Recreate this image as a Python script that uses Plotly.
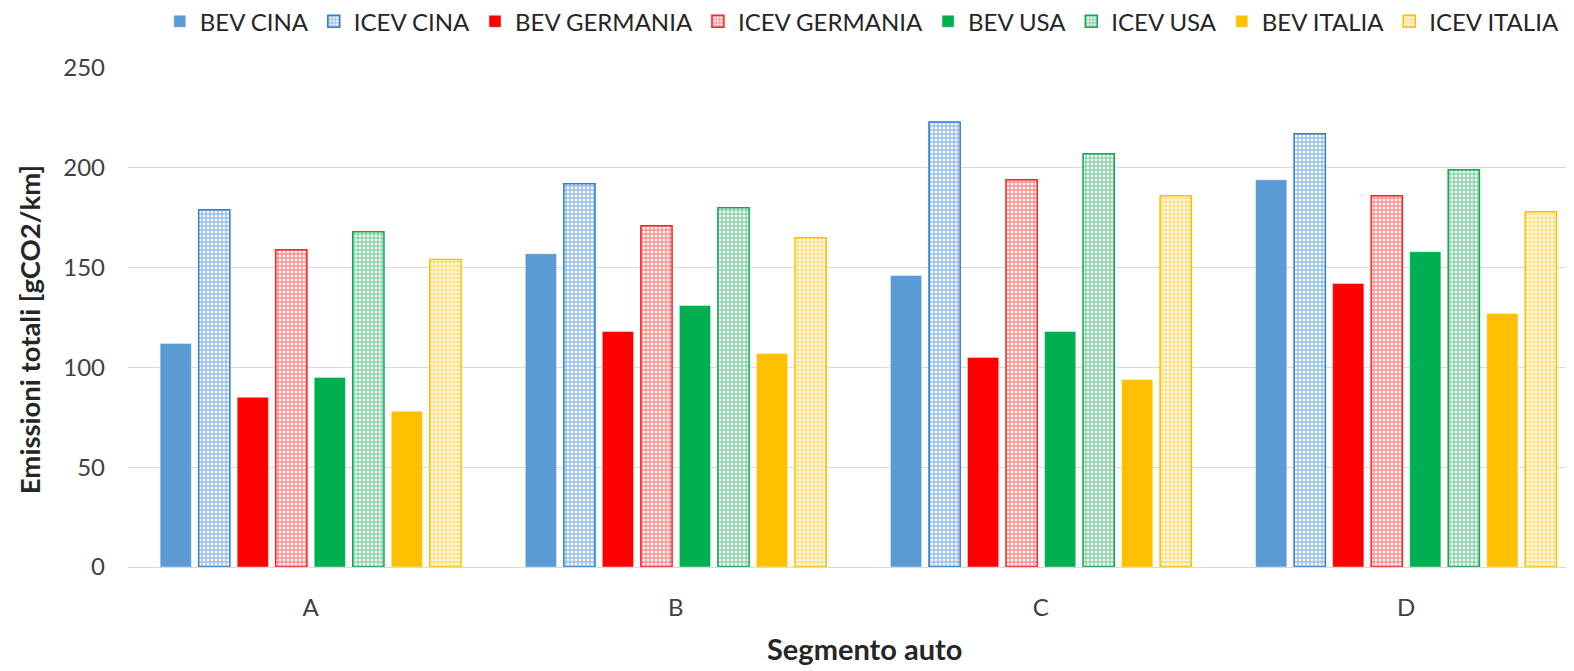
import plotly.graph_objects as go

segments = ["A", "B", "C", "D"]

bev_cina = [112, 157, 146, 194]
icev_cina = [179, 192, 223, 217]
bev_germania = [85, 118, 105, 142]
icev_germania = [159, 171, 194, 186]
bev_usa = [95, 131, 118, 158]
icev_usa = [168, 180, 207, 199]
bev_italia = [78, 107, 94, 127]
icev_italia = [154, 165, 186, 178]

series = [
    ("BEV CINA", bev_cina, "#5B9BD5", False),
    ("ICEV CINA", icev_cina, "#2E7FD0", True),
    ("BEV GERMANIA", bev_germania, "#FF0000", False),
    ("ICEV GERMANIA", icev_germania, "#FF2020", True),
    ("BEV USA", bev_usa, "#00B050", False),
    ("ICEV USA", icev_usa, "#12A852", True),
    ("BEV ITALIA", bev_italia, "#FFC000", False),
    ("ICEV ITALIA", icev_italia, "#FFC000", True),
]

fig = go.Figure()
for name, vals, color, patterned in series:
    if patterned:
        marker = dict(
            color="white",
            line=dict(color=color, width=1.5),
            pattern=dict(shape="+", fgcolor=color, bgcolor="white", size=4, solidity=0.6),
        )
    else:
        marker = dict(color=color, line=dict(color="rgba(255,255,255,0.4)", width=1))
    fig.add_trace(go.Bar(name=name, x=segments, y=vals, marker=marker))

fig.update_layout(
    width=1566,
    height=663,
    barmode="group",
    bargap=0.156,
    bargroupgap=0.19,
    plot_bgcolor="white",
    paper_bgcolor="white",
    margin=dict(l=120, r=0, t=60, b=104, autoexpand=False),
    font=dict(family="Lato, 'Open Sans', sans-serif", color="#404040", size=20),
    legend=dict(
        orientation="h",
        x=0.022,
        xanchor="left",
        y=1.138,
        yanchor="top",
        font=dict(size=24, color="#262626"),
        itemwidth=30,
        tracegroupgap=0,
    ),
    showlegend=True,
    annotations=[
        dict(
            text="<b>Emissioni totali [gCO2/km]</b>",
            xref="paper", yref="paper",
            x=-0.068, y=0.476,
            xanchor="center", yanchor="middle",
            textangle=-90,
            showarrow=False,
            font=dict(size=27.5, color="#262626"),
        ),
        dict(
            text="<b>Segmento auto</b>",
            xref="paper", yref="paper",
            x=0.509, y=-0.164,
            xanchor="center", yanchor="middle",
            showarrow=False,
            font=dict(size=29, color="#262626"),
        ),
    ],
)
fig.update_yaxes(
    range=[0, 250],
    tickvals=[0, 50, 100, 150, 200, 250],
    gridcolor="#D9D9D9",
    gridwidth=1,
    zeroline=True,
    zerolinecolor="#D9D9D9",
    zerolinewidth=1,
    ticks="",
    ticklabelstandoff=22,
    tickfont=dict(size=24, color="#404040"),
)
fig.update_xaxes(
    range=[-0.5, 3.46],
    showgrid=False,
    ticks="",
    tickfont=dict(size=24, color="#404040"),
    ticklabelstandoff=24,
)

fig.write_html("out.html")
